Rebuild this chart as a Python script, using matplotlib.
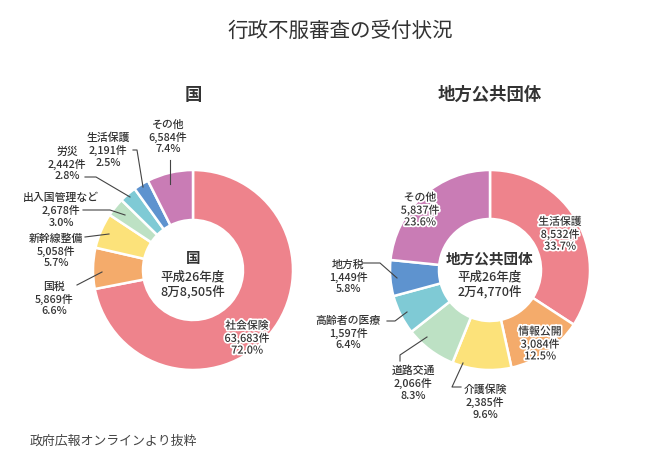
import matplotlib.pyplot as plt
import matplotlib.patheffects as pe

plt.rcParams['font.family'] = ['Noto Sans CJK JP', 'DejaVu Sans']

# data
kuni_names = ['社会保険', '国税', '新幹線整備', '出入国管理など', '労災', '生活保護', 'その他']
kuni_counts = [63683, 5869, 5058, 2678, 2442, 2191, 6584]
kuni_pcts = [72.0, 6.6, 5.7, 3.0, 2.8, 2.5, 7.4]
kuni_total = '8万8,505件'

chiho_names = ['生活保護', '情報公開', '介護保険', '道路交通', '高齢者の医療', '地方税', 'その他']
chiho_counts = [8532, 3084, 2385, 2066, 1597, 1449, 5837]
chiho_pcts = [33.7, 12.5, 9.6, 8.3, 6.4, 5.8, 23.6]
chiho_total = '2万4,770件'

kuni_colors = ['#ee838c', '#f4ab6b', '#fce27a', '#bde1c4', '#7fcad5', '#5e93cf', '#c97cb5']
chiho_colors = ['#ee838c', '#f4ab6b', '#fce27a', '#bde1c4', '#7fcad5', '#5e93cf', '#c97cb5']

W, H = 660, 469
txt = '#333333'


def Y(py):
    return H - py


fig = plt.figure(figsize=(6.6, 4.69), dpi=100)
ax = fig.add_axes([0, 0, 1, 1])

ax.pie(kuni_counts, colors=kuni_colors, center=(193, Y(270)), radius=100,
       startangle=90, counterclock=False,
       wedgeprops=dict(width=50, edgecolor='white', linewidth=1.8))
ax.pie(chiho_counts, colors=chiho_colors, center=(490, Y(270)), radius=100,
       startangle=90, counterclock=False,
       wedgeprops=dict(width=49, edgecolor='white', linewidth=1.8))

ax.set_xlim(0, W)
ax.set_ylim(0, H)
ax.set_aspect('auto')
ax.axis('off')

# label positions (pixel coords of text centre), halo flag, leader line
kuni_pos = [(247, 338, True, None),
            (54, 299, False, [(77, 285), (102, 272)]),
            (56, 251, False, [(85, 237), (109, 234)]),
            (61, 210, False, [(83, 210), (110, 210), (125, 215)]),
            (67, 164, False, [(85, 177), (96, 177), (130, 197)]),
            (108, 150, False, [(133, 150), (137, 150), (143, 187)]),
            (168, 137, False, [(170, 160), (170, 184)])]
chiho_pos = [(560, 234, True, None),
             (540, 344, True, None),
             (485, 402, False, [(463, 363), (452, 387), (461, 387)]),
             (413, 383, False, [(400, 361), (400, 355), (427, 337)]),
             (348, 333, False, [(387, 321), (395, 321), (407, 312)]),
             (348, 277, False, [(363, 263), (380, 263), (397, 278)]),
             (420, 210, True, None)]

halo = [pe.withStroke(linewidth=2.5, foreground='white')]


def draw_labels(names, counts, pcts, positions):
    for name, c, p, (x, y, h, line) in zip(names, counts, pcts, positions):
        s = f'{name}\n{c:,}件\n{p:.1f}%'
        t = ax.text(x, Y(y), s, ha='center', va='center', fontsize=7.8,
                    fontweight='medium', color=txt, linespacing=1.2)
        if h:
            t.set_path_effects(halo)
        if line:
            ax.plot([q[0] for q in line], [Y(q[1]) for q in line],
                    color='#444444', lw=0.8)


draw_labels(kuni_names, kuni_counts, kuni_pcts, kuni_pos)
draw_labels(chiho_names, chiho_counts, chiho_pcts, chiho_pos)

# centre texts
ax.text(193, Y(258), '国', ha='center', va='center', fontsize=10.5,
        fontweight='bold', color=txt)
ax.text(193, Y(277), '平成26年度', ha='center', va='center', fontsize=9,
        fontweight='medium', color=txt)
ax.text(193, Y(292), kuni_total, ha='center', va='center', fontsize=9,
        fontweight='medium', color=txt)
ax.text(490, Y(258), '地方公共団体', ha='center', va='center', fontsize=10.5,
        fontweight='bold', color=txt)
ax.text(490, Y(277), '平成26年度', ha='center', va='center', fontsize=9,
        fontweight='medium', color=txt)
ax.text(490, Y(292), chiho_total, ha='center', va='center', fontsize=9,
        fontweight='medium', color=txt)

# titles
ax.text(340, Y(31), '行政不服審査の受付状況', ha='center', va='center',
        fontsize=14.8, color=txt)
ax.text(193, Y(95), '国', ha='center', va='center', fontsize=12.5,
        fontweight='bold', color=txt)
ax.text(490, Y(95), '地方公共団体', ha='center', va='center', fontsize=12.5,
        fontweight='bold', color=txt)
ax.text(30, Y(441), '政府広報オンラインより抜粋', ha='left', va='center',
        fontsize=9.3, color='#444444')

fig.savefig('out.png', dpi=100)
